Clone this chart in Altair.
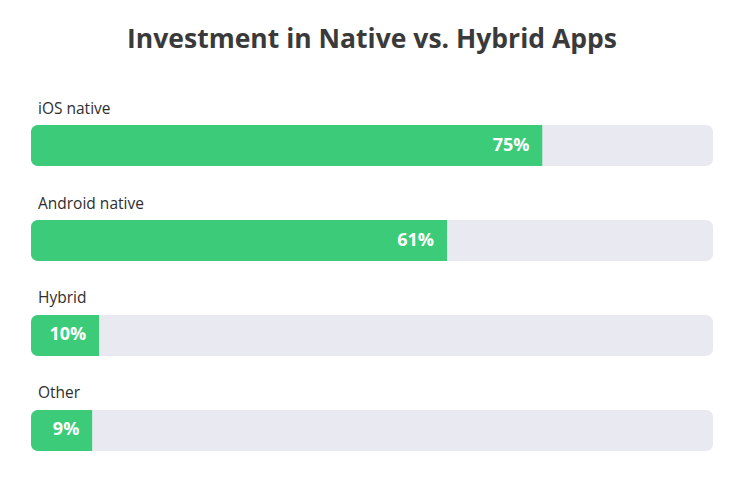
import altair as alt
import pandas as pd

categories = ["iOS native", "Android native", "Hybrid", "Other"]
values = [75, 61, 10, 9]
labels = ["75%", "61%", "10%", "9%"]
totals = [100, 100, 100, 100]

df = pd.DataFrame({"cat": categories, "value": values, "label": labels, "total": totals})

FONT = "Open Sans"
GREEN = "#3ccb78"
TRACK = "#e9e9f2"

y = alt.Y("cat:N", sort=categories, axis=None,
          scale=alt.Scale(paddingInner=0.568, paddingOuter=0))
xs = alt.Scale(domain=[0, 100], nice=False, zero=True)

base = alt.Chart(df)

track = base.mark_bar(color=TRACK, cornerRadius=7).encode(
    x=alt.X("total:Q", scale=xs, axis=None), y=y)

bar = base.mark_bar(color=GREEN, cornerRadiusTopLeft=7, cornerRadiusBottomLeft=7).encode(
    x=alt.X("value:Q", scale=xs, axis=None), y=y)

vals = base.mark_text(align="right", baseline="middle", dx=-13, font=FONT,
                      fontSize=18, fontWeight="bold", color="white").encode(
    x=alt.X("value:Q", scale=xs, axis=None), y=y, text="label:N")

cats = base.mark_text(align="left", baseline="alphabetic", dy=-32, font=FONT,
                      fontSize=15.5, color="#2e2e2e").encode(
    x=alt.value(7), y=y, text="cat:N")

chart = alt.layer(track, bar, vals, cats).properties(
    width=682, height=326,
    autosize=alt.AutoSizeParams(type="none"),
    padding={"left": 23, "top": 117, "right": 27, "bottom": 12},
    title=alt.Title("Investment in Native vs. Hybrid Apps", anchor="middle",
                    font=FONT, fontSize=26.5, fontWeight="bold", color="#3a3a3a",
                    offset=48),
).configure_view(strokeWidth=0)

chart.save("out.html", embed_options={"renderer": "svg", "actions": False})
